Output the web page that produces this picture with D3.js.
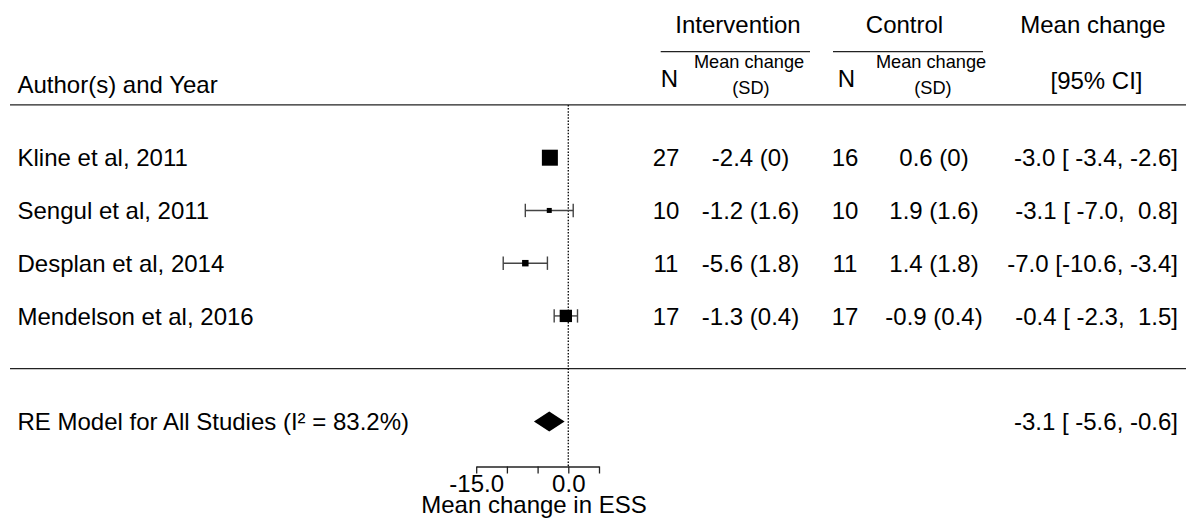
<!DOCTYPE html>
<html><head><meta charset="utf-8">
<script src="https://cdn.jsdelivr.net/npm/d3@7"></script>
<style>
html,body{margin:0;padding:0;background:#fff;}
svg text{font-family:"Liberation Sans", Arial, sans-serif; fill:#000;}
</style></head><body>
<svg id="chart" width="1186" height="521"></svg>
<script>
// ---- data ----
const studies = ["Kline et al, 2011", "Sengul et al, 2011", "Desplan et al, 2014", "Mendelson et al, 2016"];
const nInt = [27, 10, 11, 17];
const meanInt = [-2.4, -1.2, -5.6, -1.3];
const sdInt = [0, 1.6, 1.8, 0.4];
const nCtl = [16, 10, 11, 17];
const meanCtl = [0.6, 1.9, 1.4, -0.9];
const sdCtl = [0, 1.6, 1.8, 0.4];
const estimate = [-3.0, -3.1, -7.0, -0.4];
const ciLower = [-3.4, -7.0, -10.6, -2.3];
const ciUpper = [-2.6, 0.8, -3.4, 1.5];
const weights = [33.5, 18.5, 20.5, 28.5];
const summaryLabel = "RE Model for All Studies (I\u00B2 = 83.2%)";
const summaryValues = [-3.1, -5.6, -0.6]; // estimate, lower, upper
const tickValues = [-15, -10, -5, 0, 5];
const tickLabels = ["-15.0", "", "", "0.0", ""];
const xLabel = "Mean change in ESS";

// ---- layout ----
const W = 1186, H = 521;
const FS = 24, FSs = 18.2;
const svg = d3.select("#chart");
svg.append("rect").attr("width", W).attr("height", H).attr("fill", "#fff");

const x = d3.scaleLinear().domain([-15, 5]).range([476.2, 599.0]);
const k = studies.length;
const y = d3.scaleLinear().domain([-1, k]).range([421.4, 157.7]);
const size = d3.scaleLinear().domain(d3.extent(weights)).range([5, 16]);
const axisY = 466.5;
const base = FS * 0.36;

const rows = studies.map((s, i) => ({
  label: s, row: k - i, nI: nInt[i], mI: meanInt[i], sI: sdInt[i],
  nC: nCtl[i], mC: meanCtl[i], sC: sdCtl[i],
  est: estimate[i], lo: ciLower[i], hi: ciUpper[i], w: weights[i]
}));

// lines
svg.append("line").attr("x1", 10).attr("x2", W).attr("y1", y(k + 1)).attr("y2", y(k + 1))
  .attr("stroke", "#222").attr("stroke-width", 1.3);
svg.append("line").attr("x1", 10).attr("x2", W).attr("y1", y(0)).attr("y2", y(0))
  .attr("stroke", "#222").attr("stroke-width", 1.3);
// refline
svg.append("line").attr("x1", x(0)).attr("x2", x(0)).attr("y1", y(k + 1)).attr("y2", axisY)
  .attr("stroke", "#111").attr("stroke-width", 1.4).attr("stroke-dasharray", "1.5,1.6");

// header
const hdr = svg.append("g").attr("font-size", FS);
hdr.append("text").attr("x", 738).attr("y", 33).attr("text-anchor", "middle").text("Intervention");
hdr.append("text").attr("x", 904.5).attr("y", 33).attr("text-anchor", "middle").text("Control");
hdr.append("text").attr("x", 1093).attr("y", 33).attr("text-anchor", "middle").text("Mean change");
hdr.append("text").attr("x", 1096.5).attr("y", 89).attr("text-anchor", "middle").text("[95% CI]");
hdr.append("text").attr("x", 17.5).attr("y", 93).text("Author(s) and Year");
hdr.append("text").attr("x", 669.5).attr("y", 87).attr("text-anchor", "middle").text("N");
hdr.append("text").attr("x", 846.5).attr("y", 87).attr("text-anchor", "middle").text("N");
[749, 931].forEach(cx => {
  hdr.append("text").attr("x", cx).attr("y", 68).attr("font-size", FSs).attr("text-anchor", "middle").text("Mean change");
  hdr.append("text").attr("x", cx + 2).attr("y", 94).attr("font-size", FSs).attr("text-anchor", "middle").text("(SD)");
});
svg.append("line").attr("x1", 660.7).attr("x2", 810).attr("y1", 51.7).attr("y2", 51.7).attr("stroke", "#222").attr("stroke-width", 1.3);
svg.append("line").attr("x1", 833).attr("x2", 983).attr("y1", 51.7).attr("y2", 51.7).attr("stroke", "#222").attr("stroke-width", 1.3);

// formatting of CI text (padded like metafor)
const f1 = v => v.toFixed(1);
const estS = estimate.concat([summaryValues[0]]).map(f1);
const loS = ciLower.concat([summaryValues[1]]).map(f1);
const hiS = ciUpper.concat([summaryValues[2]]).map(f1);
const pad = arr => { const m = d3.max(arr, s => s.length); return arr.map(s => s.padStart(m, " ")); };
const estP = pad(estS), loP = pad(loS), hiP = pad(hiS);
const ciText = estP.map((e, i) => e + " [" + loP[i] + ", " + hiP[i] + "]");

// study rows
const g = svg.append("g").attr("font-size", FS);
const rg = g.selectAll("g.row").data(rows).join("g").attr("class", "row");
rg.append("text").attr("x", 17.5).attr("y", d => y(d.row) + base).text(d => d.label);
rg.append("text").attr("x", 666).attr("y", d => y(d.row) + base).attr("text-anchor", "middle").text(d => d.nI);
rg.append("text").attr("x", 750.5).attr("y", d => y(d.row) + base).attr("text-anchor", "middle").text(d => f1(d.mI) + " (" + d.sI + ")");
rg.append("text").attr("x", 845).attr("y", d => y(d.row) + base).attr("text-anchor", "middle").text(d => d.nC);
rg.append("text").attr("x", 934).attr("y", d => y(d.row) + base).attr("text-anchor", "middle").text(d => f1(d.mC) + " (" + d.sC + ")");
rg.append("text").attr("x", 1178).attr("y", d => y(d.row) + base).attr("text-anchor", "end")
  .style("white-space", "pre").text((d, i) => ciText[i]);

// CI bars
const ciCol = "#444";
rg.append("line").attr("x1", d => x(d.lo)).attr("x2", d => x(d.hi)).attr("y1", d => y(d.row)).attr("y2", d => y(d.row))
  .attr("stroke", ciCol).attr("stroke-width", 1.4);
rg.append("line").attr("x1", d => x(d.lo)).attr("x2", d => x(d.lo)).attr("y1", d => y(d.row) - 6.7).attr("y2", d => y(d.row) + 6.7)
  .attr("stroke", ciCol).attr("stroke-width", 1.4);
rg.append("line").attr("x1", d => x(d.hi)).attr("x2", d => x(d.hi)).attr("y1", d => y(d.row) - 6.7).attr("y2", d => y(d.row) + 6.7)
  .attr("stroke", ciCol).attr("stroke-width", 1.4);
rg.append("rect").attr("x", d => x(d.est) - size(d.w) / 2).attr("y", d => y(d.row) - size(d.w) / 2)
  .attr("width", d => size(d.w)).attr("height", d => size(d.w)).attr("fill", "#000");

// summary
const sy = y(-1);
g.append("text").attr("x", 17.5).attr("y", sy + base).text(summaryLabel);
g.append("text").attr("x", 1178).attr("y", sy + base).attr("text-anchor", "end").style("white-space", "pre").text(ciText[k]);
g.append("path").attr("d", d3.line()([
  [x(summaryValues[1]), sy], [x(summaryValues[0]), sy - 10], [x(summaryValues[2]), sy], [x(summaryValues[0]), sy + 10]
]) + "Z").attr("fill", "#000");

// axis
const ax = svg.append("g").attr("transform", `translate(0,${axisY})`)
  .call(d3.axisBottom(x).tickValues(tickValues).tickFormat((d, i) => tickLabels[i]).tickSize(7).tickPadding(1).tickSizeOuter(0));
ax.select(".domain").attr("stroke", "#222").attr("stroke-width", 1.3);
ax.selectAll(".tick line").attr("stroke", "#222").attr("stroke-width", 1.3);
ax.selectAll(".tick text").attr("font-size", FS).attr("font-family", "Liberation Sans, Arial, sans-serif").attr("fill", "#000");
svg.append("text").attr("x", 534).attr("y", 512.5).attr("font-size", FS).attr("text-anchor", "middle").text(xLabel);
</script>
</body></html>
